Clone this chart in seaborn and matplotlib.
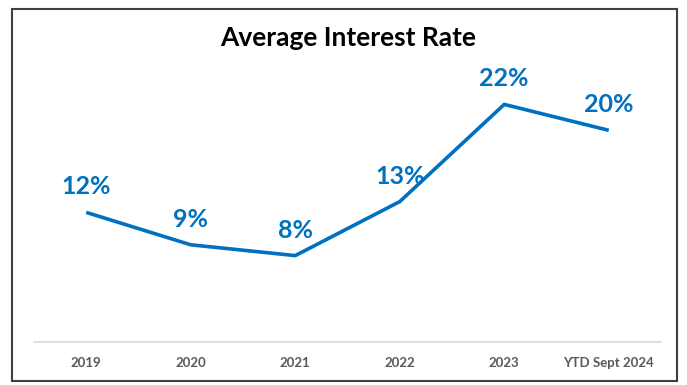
import matplotlib
matplotlib.use("Agg")
import matplotlib.pyplot as plt
import seaborn as sns
import pandas as pd
from matplotlib.patches import Rectangle

# Average interest rate by year (%)
periods = ["2019", "2020", "2021", "2022", "2023", "YTD Sept 2024"]
rates = [12, 9, 8, 13, 22, 19.6]

df = pd.DataFrame({"period": periods, "rate": rates})
df["pos"] = range(len(periods))

sns.set_theme(style="white")
plt.rcParams["font.family"] = ["Lato", "DejaVu Sans"]

BLUE = "#0070C0"

fig = plt.figure(figsize=(6.87, 3.85), dpi=100)
ax = fig.add_axes([34 / 687, 43 / 385, 627 / 687, 270 / 385])

sns.lineplot(data=df, x="pos", y="rate", ax=ax, color=BLUE, linewidth=2.6,
             solid_capstyle="butt")

for x, y in zip(df["pos"], df["rate"]):
    ax.annotate(f"{y:.0f}%", (x, y), xytext=(0, 13), textcoords="offset points",
                ha="center", va="baseline", color=BLUE, fontsize=18,
                fontweight="bold")

ax.set_xlim(-0.5, len(periods) - 0.5)
ax.set_ylim(0, 25)
ax.set_xticks(df["pos"])
ax.set_xticklabels(periods, fontsize=9.5, fontweight="bold", color="#595959")
ax.set_yticks([])
ax.set_xlabel("")
ax.set_ylabel("")
ax.tick_params(axis="x", length=0, pad=11)
for side in ["top", "right", "left"]:
    ax.spines[side].set_visible(False)
ax.spines["bottom"].set_color("#D9D9D9")
ax.spines["bottom"].set_linewidth(1.2)

fig.text(348 / 687, 1 - 38 / 385, "Average Interest Rate", ha="center",
         va="center", fontsize=19, fontweight="bold", color="black")

# Frame around the chart area
fig.patches.append(Rectangle((12 / 687, 1 - 381 / 385), 665 / 687, 372 / 385,
                             transform=fig.transFigure, fill=False,
                             edgecolor="#404040", linewidth=1.5))

fig.savefig("out.png", dpi=100)
